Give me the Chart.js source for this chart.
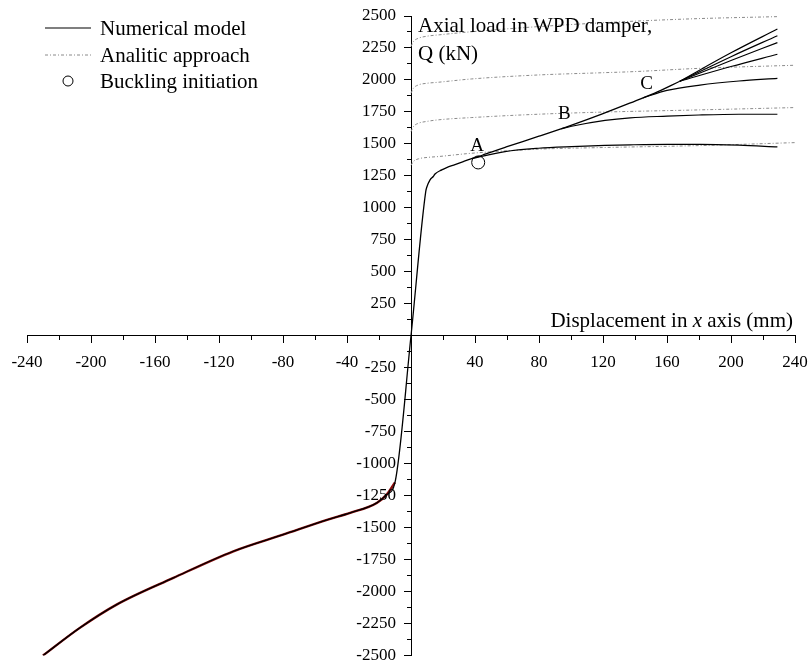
<!DOCTYPE html>
<html>
<head>
<meta charset="utf-8">
<script src="https://cdn.jsdelivr.net/npm/chart.js@4.4.1/dist/chart.umd.min.js"></script>
<style>
  html, body { margin: 0; padding: 0; background: #fff; }
  #wrap { width: 808px; height: 663px; position: relative; }
</style>
</head>
<body>
<div id="wrap"><canvas id="graph"></canvas></div>
<script>
// tick labels
const xTickValues = [-240, -200, -160, -120, -80, -40, 0, 40, 80, 120, 160, 200, 240];
const yTickValues = [-2500, -2250, -2000, -1750, -1500, -1250, -1000, -750, -500, -250, 0,
  250, 500, 750, 1000, 1250, 1500, 1750, 2000, 2250, 2500];

// numerical model : common path (compression + tension up to the fan)
const trunkX = [-230, -207, -184, -148.5, -111, -80, -52, -38, -21.4, -15.2, -10, 0, 9.2, 9.8, 11.9, 13.9, 15, 19.2,
  22.3, 27.5, 32.7, 37.9, 43, 46.3, 60, 80, 100, 120, 140, 152, 168];
const trunkY = [-2500, -2284, -2102, -1893, -1685, -1555, -1437, -1385, -1307, -1242, -1146, 0, 1127, 1159, 1219, 1245, 1265, 1297,
  1315, 1338, 1362, 1385, 1405, 1420, 1478, 1560, 1645, 1737, 1835, 1895, 1990];
// compression part (red under the black line)
const compX = [-230, -207, -184, -148.5, -111, -80, -52, -38, -21.4, -15.2, -10];
const compY = [-2500, -2284, -2102, -1893, -1685, -1555, -1437, -1385, -1307, -1242, -1146];

// branches
const branchAX = [37.9, 58.8, 79.6, 100.4, 121.3, 137, 160, 180.6, 205, 229];
const branchAY = [1385, 1440, 1466, 1479, 1488, 1493, 1497, 1497, 1490, 1476];
const branchBX = [94, 100.4, 121.3, 137, 160, 180, 205, 229];
const branchBY = [1618, 1638, 1684, 1704, 1717, 1726, 1732, 1732];
const branchCX = [145, 160, 180.6, 205, 229];
const branchCY = [1860, 1918, 1960, 1992, 2013];
const fanX = [168, 200, 229];
const fan1Y = [1990, 2212, 2398];
const fan2Y = [1990, 2182, 2346];
const fan3Y = [1990, 2152, 2292];
const fan4Y = [1990, 2105, 2201];

// analitic approach
const an1X = [0, 1.5, 4.6, 10, 17, 38, 79.6, 121, 149.4, 180.6, 229];
const an1Y = [2262, 2300, 2326, 2342, 2352, 2377, 2417, 2448, 2465, 2480, 2495];
const an2X = [0, 1.5, 4.6, 10, 17, 38, 79.6, 121, 139, 180.6, 240];
const an2Y = [1896, 1935, 1961, 1974, 1982, 2008, 2039, 2057, 2065, 2091, 2115];
const an3X = [0, 1.5, 4.6, 10, 17, 38, 79.6, 118, 180.6, 240];
const an3Y = [1596, 1635, 1661, 1676, 1688, 1706, 1732, 1748, 1766, 1784];
const an4X = [0, 1.5, 4.6, 10, 17, 38, 79.6, 118, 180.6, 240];
const an4Y = [1332, 1362, 1383, 1394, 1401, 1427, 1459, 1471, 1487, 1510];

// buckling initiation
const buckX = [42];
const buckY = [1355];

// point labels
const markNames = ['A', 'B', 'C'];
const markX = [41.3, 95.8, 147.3];
const markY = [1484, 1734, 1969];

const pts = (xs, ys) => xs.map((x, i) => ({ x: x, y: ys[i] }));

const FONT = '"Liberation Serif", "Times New Roman", serif';
Chart.defaults.font.family = FONT;
Chart.defaults.color = '#000';

const solid = (xs, ys, color, width) => ({
  data: pts(xs, ys),
  showLine: true,
  borderColor: color,
  borderWidth: width,
  pointRadius: 0,
  cubicInterpolationMode: 'monotone',
  fill: false,
});
const dotted = (xs, ys) => ({
  data: pts(xs, ys),
  showLine: true,
  borderColor: '#8a8a8a',
  borderWidth: 1,
  borderDash: [3, 2, 1, 2],
  pointRadius: 0,
  cubicInterpolationMode: 'monotone',
  fill: false,
});

// first dataset is drawn on top
const datasets = [
  {
    data: pts(buckX, buckY),
    showLine: false,
    pointRadius: 6.5,
    pointBorderColor: '#000',
    pointBackgroundColor: 'rgba(255,255,255,0)',
    pointBorderWidth: 1,
  },
  solid(trunkX, trunkY, '#000', 1.3),
  solid(branchAX, branchAY, '#000', 1.2),
  solid(branchBX, branchBY, '#000', 1.2),
  solid(branchCX, branchCY, '#000', 1.2),
  solid(fanX, fan1Y, '#000', 1.2),
  solid(fanX, fan2Y, '#000', 1.2),
  solid(fanX, fan3Y, '#000', 1.2),
  solid(fanX, fan4Y, '#000', 1.2),
  solid(compX, compY, '#8b0d0d', 2.4),
  dotted(an1X, an1Y),
  dotted(an2X, an2Y),
  dotted(an3X, an3Y),
  dotted(an4X, an4Y),
];

// texts, legend, y tick labels and point labels
const annotate = {
  id: 'annotate',
  afterDraw(chart) {
    const ctx = chart.ctx;
    const sx = chart.scales.x, sy = chart.scales.y;
    const x0 = sx.getPixelForValue(0);
    ctx.save();
    ctx.fillStyle = '#000';

    // y tick labels (left of the centred axis)
    ctx.font = '17px ' + FONT;
    ctx.textAlign = 'right';
    ctx.textBaseline = 'middle';
    yTickValues.forEach(v => {
      if (v !== 0) ctx.fillText(String(v), x0 - 15, sy.getPixelForValue(v));
    });

    ctx.textBaseline = 'alphabetic';
    // y axis title
    ctx.font = '21px ' + FONT;
    ctx.textAlign = 'left';
    ctx.fillText('Axial load in WPD damper,', x0 + 7, 32);
    ctx.fillText('Q (kN)', x0 + 7, 60);

    // x axis title, right aligned, with italic x
    const parts = [['Displacement in ', '21px '], ['x', 'italic 21px '], [' axis (mm)', '21px ']];
    let w = 0;
    parts.forEach(p => { ctx.font = p[1] + FONT; w += ctx.measureText(p[0]).width; });
    let px = sx.getPixelForValue(240) - 2 - w;
    parts.forEach(p => { ctx.font = p[1] + FONT; ctx.fillText(p[0], px, 327); px += ctx.measureText(p[0]).width; });

    // point labels
    ctx.font = '19px ' + FONT;
    ctx.textAlign = 'center';
    ctx.textBaseline = 'middle';
    markNames.forEach((n, i) => ctx.fillText(n, sx.getPixelForValue(markX[i]), sy.getPixelForValue(markY[i])));

    // legend
    ctx.textAlign = 'left';
    ctx.textBaseline = 'alphabetic';
    ctx.font = '21px ' + FONT;
    ctx.strokeStyle = '#000';
    ctx.lineWidth = 1.2;
    ctx.beginPath(); ctx.moveTo(45, 28); ctx.lineTo(91, 28); ctx.stroke();
    ctx.fillText('Numerical model', 100, 35);
    ctx.strokeStyle = '#8a8a8a';
    ctx.lineWidth = 1;
    ctx.setLineDash([3, 2, 1, 2]);
    ctx.beginPath(); ctx.moveTo(45, 55); ctx.lineTo(91, 55); ctx.stroke();
    ctx.setLineDash([]);
    ctx.fillText('Analitic approach', 100, 62);
    ctx.strokeStyle = '#000';
    ctx.beginPath(); ctx.arc(68, 81, 5, 0, Math.PI * 2); ctx.stroke();
    ctx.fillText('Buckling initiation', 100, 88);
    ctx.restore();
  }
};

const noPad = s => { s.paddingLeft = 0; s.paddingRight = 0; s.paddingTop = 0; s.paddingBottom = 0; };

new Chart(document.getElementById('graph'), {
  type: 'scatter',
  data: { datasets: datasets },
  plugins: [annotate],
  options: {
    responsive: true,
    maintainAspectRatio: false,
    animation: false,
    events: [],
    layout: { padding: { left: 27, right: 13, top: 16, bottom: 7 } },
    plugins: { legend: { display: false }, tooltip: { enabled: false } },
    scales: {
      x: {
        type: 'linear', min: -240, max: 240,
        position: { y: 0 },
        afterBuildTicks: s => { s.ticks = xTickValues.map(v => ({ value: v })); },
        afterFit: noPad,
        ticks: { callback: v => (v === 0 ? '' : v), font: { size: 17 }, color: '#000', autoSkip: false, maxRotation: 0, padding: 10 },
        grid: { drawOnChartArea: false, tickLength: 7, color: '#000' },
        border: { color: '#000', width: 1 },
      },
      y: {
        type: 'linear', min: -2500, max: 2500,
        position: { x: 0 },
        afterBuildTicks: s => { s.ticks = yTickValues.map(v => ({ value: v })); },
        afterFit: noPad,
        ticks: { display: false },
        grid: { drawOnChartArea: false, tickLength: 7, color: '#000' },
        border: { color: '#000', width: 1 },
      },
      xMinor: {
        type: 'linear', axis: 'x', min: -240, max: 240,
        position: { y: 0 },
        afterFit: noPad,
        ticks: { display: false, stepSize: 20 },
        grid: { drawOnChartArea: false, tickLength: 4, color: '#000' },
        border: { display: false },
      },
      yMinor: {
        type: 'linear', axis: 'y', min: -2500, max: 2500,
        position: { x: 0 },
        afterFit: noPad,
        ticks: { display: false, stepSize: 125 },
        grid: { drawOnChartArea: false, tickLength: 4, color: '#000' },
        border: { display: false },
      },
    },
  },
});
</script>
</body>
</html>
